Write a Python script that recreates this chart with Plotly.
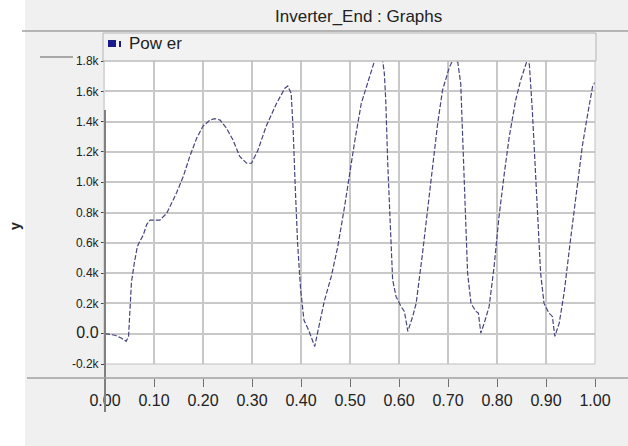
import plotly.graph_objects as go

# Inverter output power over time
time_s = [0.0, 0.02, 0.034, 0.043, 0.048, 0.054, 0.06, 0.066, 0.071, 0.078, 0.085, 0.092,
          0.112, 0.126, 0.146, 0.16, 0.173, 0.187, 0.2, 0.214, 0.224, 0.235, 0.248, 0.261,
          0.275, 0.289, 0.299, 0.312, 0.329, 0.35, 0.367, 0.373, 0.38, 0.384, 0.388, 0.393,
          0.399, 0.406, 0.416, 0.428, 0.438, 0.448, 0.462, 0.475, 0.489, 0.499, 0.509, 0.523,
          0.536, 0.55, 0.558, 0.566, 0.57, 0.573, 0.577, 0.58, 0.587, 0.594, 0.604, 0.611,
          0.618, 0.628, 0.635, 0.648, 0.665, 0.679, 0.689, 0.703, 0.712, 0.72, 0.726, 0.733,
          0.74, 0.747, 0.757, 0.762, 0.767, 0.774, 0.784, 0.794, 0.804, 0.815, 0.825, 0.838,
          0.848, 0.86, 0.866, 0.872, 0.876, 0.882, 0.889, 0.896, 0.906, 0.913, 0.918, 0.927,
          0.937, 0.95, 0.964, 0.974, 0.984, 0.995, 1.0]
power_w = [0, -10, -30, -50, -20, 340, 470, 575, 610, 650, 720, 750,
           750, 795, 930, 1040, 1170, 1290, 1370, 1410, 1420, 1410, 1356, 1280,
           1170, 1125, 1125, 1210, 1370, 1520, 1620, 1635, 1585, 1345, 990, 600,
           300, 90, 20, -84, 70, 220, 380, 575, 840, 1060, 1257, 1520,
           1660, 1800, 1850, 1820, 1720, 1540, 1125, 880, 356, 246, 180, 147,
           15, 114, 200, 530, 1015, 1390, 1610, 1760, 1820, 1790, 1650, 1015,
           400, 200, 147, 136, 4, 70, 180, 440, 770, 1060, 1300, 1540,
           1670, 1790, 1780, 1480, 1210, 840, 400, 200, 136, 114, -18, 70,
           270, 620, 970, 1235, 1430, 1630, 1660]

x_ticks = [0.0, 0.1, 0.2, 0.3, 0.4, 0.5, 0.6, 0.7, 0.8, 0.9, 1.0]
x_tick_text = ["0.00", "0.10", "0.20", "0.30", "0.40", "0.50", "0.60", "0.70", "0.80", "0.90", "1.00"]
y_ticks = [-200, 0, 200, 400, 600, 800, 1000, 1200, 1400, 1600, 1800]
y_tick_text = ["-0.2k", "<span style='font-size:16px'>0.0</span>", "0.2k", "0.4k", "0.6k",
               "0.8k", "1.0k", "1.2k", "1.4k", "1.6k", "1.8k"]

W, H = 628, 446
ML, MR, MT, MB = 105, 33, 61, 68
PW, PH = W - ML - MR, H - MT - MB
BG = "#f0f0f0"
FONT = "Arial, Liberation Sans, sans-serif"


def px(xp):
    return (xp - ML) / PW


def py(yp):
    return (H - MB - yp) / PH


fig = go.Figure()
fig.add_trace(go.Scatter(
    x=time_s, y=power_w, mode="lines", name="Pow er",
    line=dict(color="#45457f", width=1.2, dash="5px,2px"),
    showlegend=False,
))

shapes = [
    # white strip on the far left
    dict(type="rect", xref="paper", yref="paper", x0=px(0), x1=px(25), y0=py(H), y1=py(0),
         fillcolor="white", line=dict(width=0), layer="below"),
    # title bar separator
    dict(type="line", xref="paper", yref="paper", x0=px(22), x1=px(W), y0=py(31), y1=py(31),
         line=dict(color="#a0a0a0", width=1.5)),
    # legend bar
    dict(type="rect", xref="paper", yref="paper", x0=px(103), x1=px(596), y0=py(61), y1=py(33),
         fillcolor="#f2f2f2", line=dict(color="#b4b4b4", width=1)),
    # legend swatch
    dict(type="rect", xref="paper", yref="paper", x0=px(108), x1=px(116), y0=py(47), y1=py(40),
         fillcolor="#1a1a8c", line=dict(width=0)),
    dict(type="rect", xref="paper", yref="paper", x0=px(119), x1=px(121), y0=py(47), y1=py(41),
         fillcolor="#1a1a8c", line=dict(width=0)),
    # plot frame
    dict(type="rect", xref="paper", yref="paper", x0=px(104), x1=px(595), y0=py(364), y1=py(61),
         line=dict(color="#c0c0c0", width=1)),
    # dark vertical axis line
    dict(type="line", xref="paper", yref="paper", x0=px(105), x1=px(105), y0=py(412), y1=py(110),
         line=dict(color="#808080", width=2)),
    # horizontal axis line
    dict(type="line", xref="paper", yref="paper", x0=px(27), x1=px(W), y0=py(378), y1=py(378),
         line=dict(color="#a0a0a0", width=1.5)),
    # short marker left of the top tick
    dict(type="line", xref="paper", yref="paper", x0=px(40), x1=px(73), y0=py(57), y1=py(57),
         line=dict(color="#606060", width=1)),
]

annotations = [
    dict(text="Inverter_End : Graphs", xref="paper", yref="paper", x=px(358), y=py(16),
         xanchor="center", yanchor="middle", showarrow=False,
         font=dict(family=FONT, size=17, color="#222222")),
    dict(text="Pow er", xref="paper", yref="paper", x=px(127), y=py(44),
         xanchor="left", yanchor="middle", showarrow=False,
         font=dict(family=FONT, size=17, color="#222222")),
    dict(text="<b>y</b>", xref="paper", yref="paper", x=px(15), y=py(226), textangle=-90,
         xanchor="center", yanchor="middle", showarrow=False,
         font=dict(family=FONT, size=14, color="#222222")),
]

fig.update_layout(
    width=W, height=H,
    margin=dict(l=ML, r=MR, t=MT, b=MB, pad=0),
    paper_bgcolor=BG, plot_bgcolor="white",
    shapes=shapes, annotations=annotations,
    xaxis=dict(range=[0, 1], tickvals=x_ticks, ticktext=x_tick_text, anchor="free", position=0,
               showgrid=True, gridcolor="#c8c8c8", gridwidth=1.5, zeroline=False, showline=False,
               ticks="outside", ticklen=8, tickcolor="#707070", tickwidth=1,
               tickfont=dict(family=FONT, size=16, color="#222222")),
    yaxis=dict(range=[-200, 1800], domain=[(378 - 364) / PH, 1], tickvals=y_ticks,
               ticktext=y_tick_text, showgrid=True, gridcolor="#c8c8c8", gridwidth=1.5,
               zeroline=False, showline=False, ticks="outside", ticklen=3,
               tickcolor="#404040", tickfont=dict(family=FONT, size=12, color="#222222")),
)

fig.write_html("out.html")
